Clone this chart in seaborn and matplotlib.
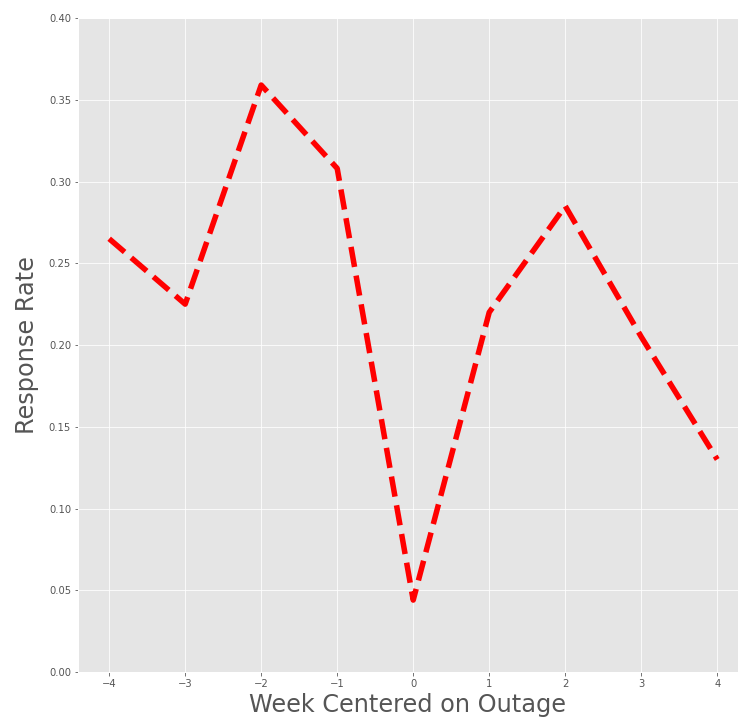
import pandas as pd
import matplotlib
matplotlib.use("Agg")
import matplotlib.pyplot as plt
import seaborn as sns

# Wochen relativ zum Ausfall und Antwortquote
weeks = [-4, -3, -2, -1, 0, 1, 2, 3, 4]
response_rate = [0.265, 0.225, 0.359, 0.308, 0.044, 0.220, 0.285, 0.205, 0.130]

plt.style.use("ggplot")

df = pd.DataFrame({"week": weeks, "rate": response_rate})

fig = plt.figure(figsize=(738 / 72, 723 / 72), dpi=72)
ax = fig.add_axes([0.1057, 0.0705, 0.894, 0.9046])

sns.lineplot(data=df, x="week", y="rate", ax=ax, color="red",
             linestyle="--", linewidth=5.5)

ax.set_xlim(-4.41, 4.27)
ax.set_ylim(0, 0.40)
ax.set_xticks(weeks)
ax.set_yticks([0.0, 0.05, 0.10, 0.15, 0.20, 0.25, 0.30, 0.35, 0.40])
ax.set_yticklabels([f"{v:.2f}" for v in ax.get_yticks()])
ax.set_xlabel("Week Centered on Outage", fontsize=24, labelpad=4)
ax.set_ylabel("Response Rate", fontsize=24, labelpad=10)

fig.savefig("out.png", dpi=72)
